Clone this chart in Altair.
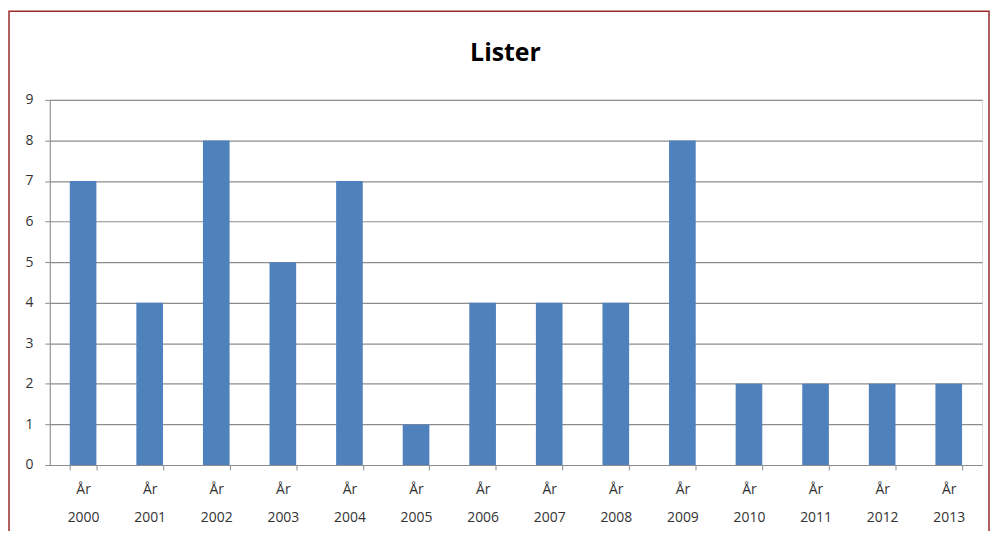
import altair as alt
import pandas as pd

title_text = "Lister"
years = ["2000", "2001", "2002", "2003", "2004", "2005", "2006",
         "2007", "2008", "2009", "2010", "2011", "2012", "2013"]
values = [7, 4, 8, 5, 7, 1, 4, 4, 4, 8, 2, 2, 2, 2]
labels = ["År " + y for y in years]

df = pd.DataFrame({"label": labels, "value": values})

W, H = 937, 367

bars = alt.Chart(df).mark_bar(color="#4F81BD").encode(
    x=alt.X("label:N", sort=labels,
            scale=alt.Scale(paddingInner=0.6, paddingOuter=0.3),
            axis=alt.Axis(title=None, labelAngle=0, tickBand="extent",
                          labelExpr="split(datum.label, ' ')",
                          labelLineHeight=28, labelPadding=13,
                          labelFontSize=14, labelColor="#333333",
                          labelFont="Open Sans",
                          domainColor="#8c8c8c", tickColor="#8c8c8c",
                          tickSize=5, grid=False)),
    y=alt.Y("value:Q", scale=alt.Scale(domain=[0, 9], nice=False),
            axis=alt.Axis(title=None, values=list(range(10)),
                          labelFontSize=14, labelColor="#333333",
                          labelFont="Open Sans", labelPadding=12,
                          domainColor="#8c8c8c", tickColor="#8c8c8c",
                          tickSize=5, gridColor="#8c8c8c", gridWidth=1.2)),
)

one = pd.DataFrame({"t": [title_text]})

border = alt.Chart(one).mark_rect(
    fill=None, stroke="#9b2a2a", strokeWidth=1.5, clip=False
).encode(
    x=alt.value(-41), x2=alt.value(944),
    y=alt.value(-89), y2=alt.value(460),
)

title = alt.Chart(one).mark_text(
    font="Open Sans", fontSize=25, fontWeight="bold", color="#000000",
    align="center", baseline="middle", clip=False
).encode(
    text="t:N", x=alt.value(458), y=alt.value(-47),
)

chart = alt.layer(border, bars, title).properties(
    width=W, height=H,
    autosize=alt.AutoSizeParams(type="none"),
    padding={"left": 42, "top": 91, "right": 8, "bottom": 65},
).configure_view(stroke=None).configure(background="#ffffff")

chart.save("out.html", embed_options={"renderer": "svg", "actions": False})
